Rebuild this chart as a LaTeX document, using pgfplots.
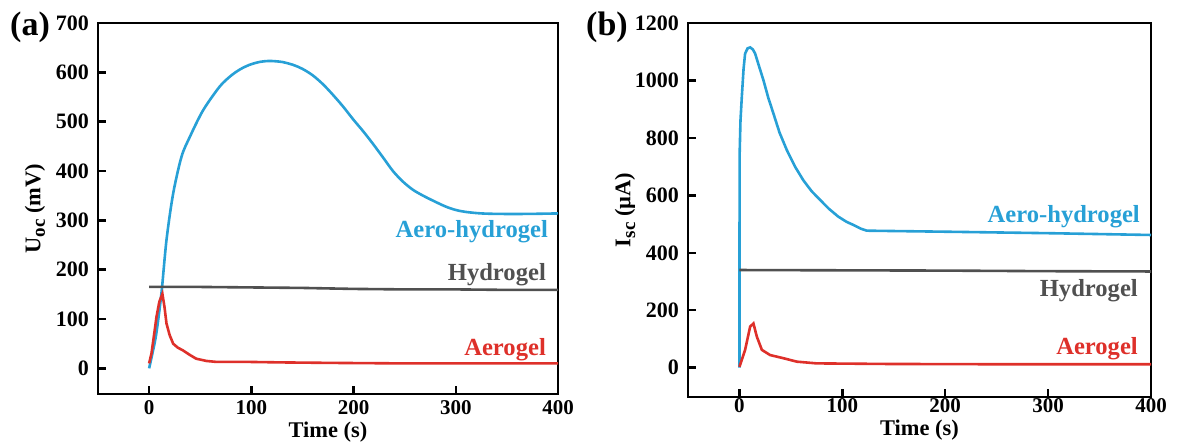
\documentclass[border=0pt]{standalone}
\usepackage{fontspec}
\setmainfont{Liberation Serif}
\usepackage{pgfplots}
\pgfplotsset{compat=1.18}

\definecolor{aeroblue}{RGB}{39,160,214}
\definecolor{aerored}{RGB}{222,48,42}
\definecolor{hydrogray}{RGB}{80,80,80}

\tikzset{lbl/.style={anchor=east, font=\fontsize{12.3}{14}\selectfont\bfseries}}

\pgfplotsset{
  gelaxis/.style={
    scale only axis,
    axis line style={line width=1.3pt},
    tick style={line width=1.2pt, black},
    major tick length=4pt,
    tick align=inside,
    xtick pos=bottom, ytick pos=left,
    xmin=-50, xmax=400,
    xtick={0,100,200,300,400},
    /pgf/number format/assume math mode=true,
    /pgf/number format/1000 sep={},
    xticklabel style={font=\fontsize{10.5}{12}\selectfont\bfseries, inner sep=1pt},
    yticklabel style={font=\fontsize{11}{12}\selectfont\bfseries, xshift=-1pt},
    label style={font=\fontsize{11.2}{13}\selectfont\bfseries},
    xlabel={Time (s)},
    clip=false,
    every axis plot/.append style={line width=1.3pt, no markers},
  },
}

\begin{document}
\begin{tikzpicture}
\useasboundingbox (0,0) rectangle (588.5pt,224pt);

% ---------- (a) open-circuit voltage ----------
\begin{axis}[gelaxis,
  at={(49pt,27pt)}, anchor=south west,
  width=230pt, height=185.5pt,
  ymin=-52, ymax=700,
  ytick={0,100,...,700},
  xticklabel style={yshift=-2pt},
  ylabel={U\raisebox{-0.45ex}{\fontsize{9.5}{10}\selectfont oc} (mV)},
  ylabel style={at={(axis description cs:-0.137,0.5)}, anchor=center},
  xlabel style={at={(axis description cs:0.5,-0.102)}, anchor=center},
]
\addplot[aeroblue, smooth, tension=0.5] coordinates {
 (0,0) (3,28) (7,70) (12,151) (17,260) (23.5,354) (31.7,429) (39.8,469)
 (52.8,523) (69,571) (80,593) (89,606) (98,615) (108,621) (118,623)
 (130,621) (141,615) (150,607) (160,594) (170,576) (180,554) (190,530)
 (199.5,505) (210,479) (219,455) (229,427) (238.5,400) (248,379) (258,362)
 (268,350) (277.6,340) (290,328) (300,321) (310,317) (325,314) (343,313)
 (370,313) (400,314)
};
\addplot[hydrogray] coordinates {
 (0,165) (50,165) (100,164) (150,163) (200,161) (250,160) (300,160) (350,159) (400,159)
};
\addplot[aerored] coordinates {
 (0,10) (2.3,30) (5,70) (7.2,104) (10,135) (13,151) (15,125) (17,91)
 (20,68) (23.5,50) (28,42) (33,36.5) (40,27) (46,19.6) (56,15) (66,13)
 (98,13) (130,12) (180,11) (250,10) (320,10) (400,10)
};
\node[lbl, text=aeroblue] at (axis cs:397,278) {Aero-hydrogel};
\node[lbl, text=hydrogray] at (axis cs:395,190) {Hydrogel};
\node[lbl, text=aerored] at (axis cs:395,38) {Aerogel};
\end{axis}

% ---------- (b) short-circuit current ----------
\begin{axis}[gelaxis,
  at={(344pt,25.5pt)}, anchor=south west,
  width=231.5pt, height=187pt,
  ymin=-102, ymax=1200,
  ytick={0,200,...,1200},
  xticklabel style={yshift=0.5pt},
  ylabel={I\raisebox{-0.45ex}{\fontsize{9.5}{10}\selectfont sc} (µA)},
  ylabel style={at={(axis description cs:-0.136,0.5)}, anchor=center},
  xlabel style={at={(axis description cs:0.5,-0.088)}, anchor=center},
]
\addplot[aeroblue] coordinates {
 (0,0) (0,300) (0.2,746) (1,860) (2.3,943) (4,1040) (5.5,1094) (8,1112) (10.4,1115)
 (13,1108) (15.2,1094) (19,1050) (23.3,1001) (28,940) (33,885) (39,818)
 (46,758) (54,700) (62,653) (70,615) (78.4,584) (87,553) (96,526)
 (104,508) (110.7,497) (118,484) (123.7,477) (208,473) (305,468) (400,462)
};
\addplot[hydrogray] coordinates {
 (0,340) (100,339) (200,338) (300,336) (400,335)
};
\addplot[aerored] coordinates {
 (0,3) (5.5,62) (10.4,143) (13.6,154) (16.9,108) (21.8,62) (29.8,44)
 (42.7,33) (55.8,21) (75,15) (143,13) (250,12) (400,12)
};
\node[lbl, text=aeroblue] at (axis cs:396,525) {Aero-hydrogel};
\node[lbl, text=hydrogray] at (axis cs:394,267) {Hydrogel};
\node[lbl, text=aerored] at (axis cs:394,65) {Aerogel};
\end{axis}

% panel letters
\node[font=\fontsize{17}{19}\selectfont\bfseries] at (15pt,210.5pt) {(a)};
\node[font=\fontsize{17}{19}\selectfont\bfseries] at (303.5pt,210.5pt) {(b)};
\end{tikzpicture}
\end{document}
